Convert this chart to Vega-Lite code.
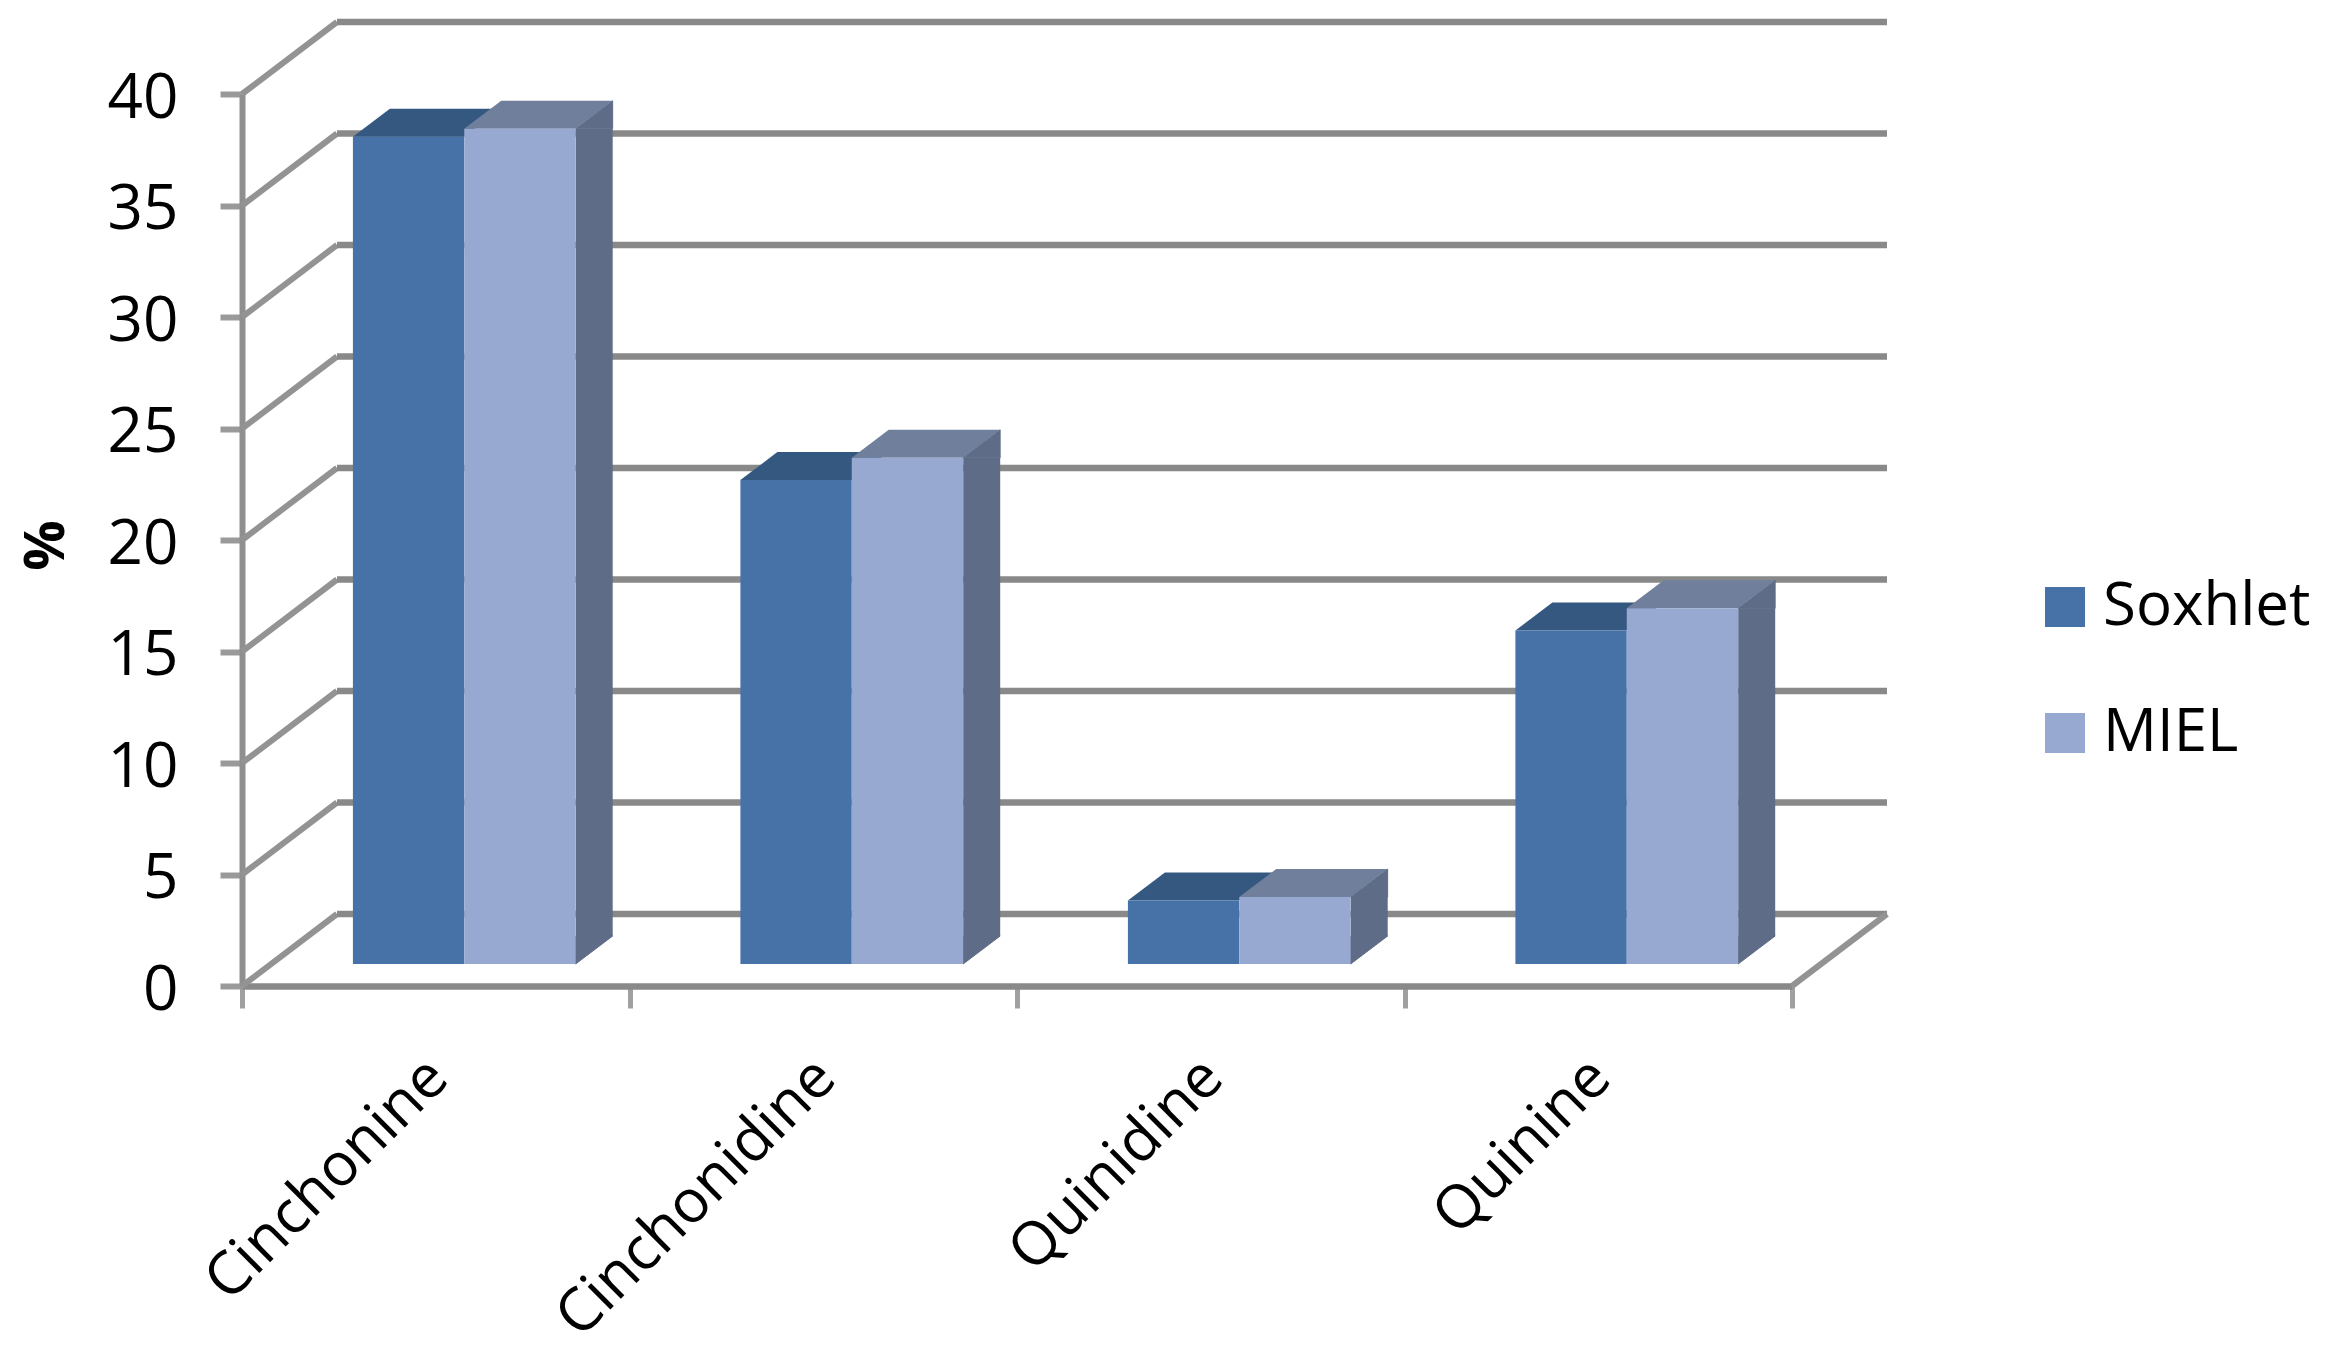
{
"$schema":"https://vega.github.io/schema/vega-lite/v6.json",
"width":1550,"height":892,
"autosize":{"type":"none"},
"padding":{"left":242,"top":94,"right":534,"bottom":362},
"background":"white",
"config":{"view":{"stroke":null},"font":"Open Sans"},
"datasets":{
"bars":[
{"compound":"Cinchonine","method":"Soxhlet","value":37.1},
{"compound":"Cinchonine","method":"MIEL","value":37.45},
{"compound":"Cinchonidine","method":"Soxhlet","value":21.7},
{"compound":"Cinchonidine","method":"MIEL","value":22.7},
{"compound":"Quinidine","method":"Soxhlet","value":2.85},
{"compound":"Quinidine","method":"MIEL","value":3.0},
{"compound":"Quinine","method":"Soxhlet","value":14.95},
{"compound":"Quinine","method":"MIEL","value":15.95}
],
"ticks":[{"t":0},{"t":5},{"t":10},{"t":15},{"t":20},{"t":25},{"t":30},{"t":35},{"t":40}]
},
"layer":[
{"data":{"name":"ticks"},
 "mark":{"type":"point","filled":false,"stroke":"#939393","strokeWidth":6,"size":40000,"opacity":1,"shape":"M0,0L0.95,-0.72"},
 "encoding":{"x":{"datum":"Cinchonine","bandPosition":0,"type":"nominal","scale":{"domain":["Cinchonine","Cinchonidine","Quinidine","Quinine"],"padding":0},"axis":{"title":null,"labelFontSize":60,"labelColor":"black","labelAngle":-45,"labelAlign":"right","labelBaseline":"middle","labelPadding":60,"labelOffset":2,"labelLimit":800,"tickBand":"extent","tickSize":22,"tickWidth":5,"tickColor":"#a0a0a0","domainColor":"#898989","domainWidth":6.5,"grid":false}},
  "y":{"field":"t","type":"quantitative","scale":{"domain":[0,40],"nice":false},"axis":{"title":"%","titleFontSize":56,"titleFontWeight":"bold","titleColor":"black","titleX":-167,"titleY":451,"titleAngle":-90,"titleAlign":"center","values":[0,5,10,15,20,25,30,35,40],"labelFontSize":62,"labelColor":"black","labelPadding":42,"labelOffset":4,"tickSize":22,"tickWidth":6,"tickColor":"#9a9a9a","domainColor":"#8f8f8f","domainWidth":6,"grid":false,"labelBaseline":"middle"}}}},
{"data":{"name":"ticks"},
 "mark":{"type":"point","filled":false,"stroke":"#898989","strokeWidth":6.5,"size":40000,"opacity":1,"shape":"M0.95,-0.72L16.45,-0.72"},
 "encoding":{"x":{"datum":"Cinchonine","bandPosition":0,"type":"nominal"},
  "y":{"field":"t","type":"quantitative"}}},
{"data":{"values":[{"t":0}]},
 "mark":{"type":"point","filled":false,"stroke":"#939393","strokeWidth":6,"size":40000,"opacity":1,"shape":"M0,0L0.95,-0.72"},
 "encoding":{"x":{"datum":"Quinine","bandPosition":1,"type":"nominal"},
  "y":{"field":"t","type":"quantitative"}}},
{"data":{"name":"bars"},"transform":[{"filter":"datum.method==='MIEL'"}],
 "mark":{"type":"bar","color":"#5E6C87","width":37,"xOffset":158.45,"yOffset":-22,"y2Offset":-50},
 "encoding":{"x":{"field":"compound","type":"nominal"},
  "y":{"field":"value","type":"quantitative"},
  "y2":{"datum":0}}},
{"data":{"name":"bars"},"transform":[{"filter":"datum.method==='MIEL'"}],
 "mark":{"type":"point","filled":true,"opacity":1,"color":"#5E6C87","stroke":"#5E6C87","strokeWidth":1,"size":40000,"yOffset":-22,"shape":"M0.557,0L0.927,0L0.927,-0.28Z"},
 "encoding":{"x":{"field":"compound","type":"nominal"},
  "xOffset":{"field":"method","type":"nominal","scale":{"domain":["Soxhlet","MIEL"],"paddingInner":0,"paddingOuter":0.74,"align":0.673}},
  "y":{"field":"value","type":"quantitative"}}},
{"data":{"name":"bars"},"transform":[{"filter":"datum.method==='MIEL'"}],
 "mark":{"type":"point","filled":true,"opacity":1,"color":"#5E6C87","stroke":"#5E6C87","strokeWidth":1,"size":40000,"yOffset":-22,"shape":"M0.557,0L0.557,-0.28L0.927,-0.28Z"},
 "encoding":{"x":{"field":"compound","type":"nominal"},
  "xOffset":{"field":"method","type":"nominal"},
  "y":{"datum":0,"type":"quantitative"}}},
{"data":{"name":"bars"},"transform":[{"filter":"datum.method==='Soxhlet'"}],
 "mark":{"type":"point","filled":true,"opacity":1,"color":"#355880","size":40000,"yOffset":-22,"shape":"M-0.557,0L0.557,0L0.927,-0.28L-0.187,-0.28Z"},
 "encoding":{"x":{"field":"compound","type":"nominal"},
  "xOffset":{"field":"method","type":"nominal"},
  "y":{"field":"value","type":"quantitative"}}},
{"data":{"name":"bars"},"transform":[{"filter":"datum.method==='MIEL'"}],
 "mark":{"type":"point","filled":true,"opacity":1,"color":"#70809C","size":40000,"yOffset":-22,"shape":"M-0.557,0L0.557,0L0.927,-0.28L-0.187,-0.28Z"},
 "encoding":{"x":{"field":"compound","type":"nominal"},
  "xOffset":{"field":"method","type":"nominal"},
  "y":{"field":"value","type":"quantitative"}}},
{"data":{"name":"bars"},
 "mark":{"type":"bar","yOffset":-22,"y2Offset":-22},
 "encoding":{"x":{"field":"compound","type":"nominal"},
  "xOffset":{"field":"method","type":"nominal"},
  "y":{"field":"value","type":"quantitative"},
  "y2":{"datum":0},
  "color":{"field":"method","type":"nominal","scale":{"domain":["Soxhlet","MIEL"],"range":["#4672A8","#97A9D0"]},
   "legend":{"title":null,"orient":"none","legendX":1793,"legendY":483,"symbolType":"square","symbolSize":1600,"symbolStrokeWidth":0,"labelFontSize":60,"labelColor":"black","labelOffset":8,"labelLimit":600,"rowPadding":66}}}}
]
}
